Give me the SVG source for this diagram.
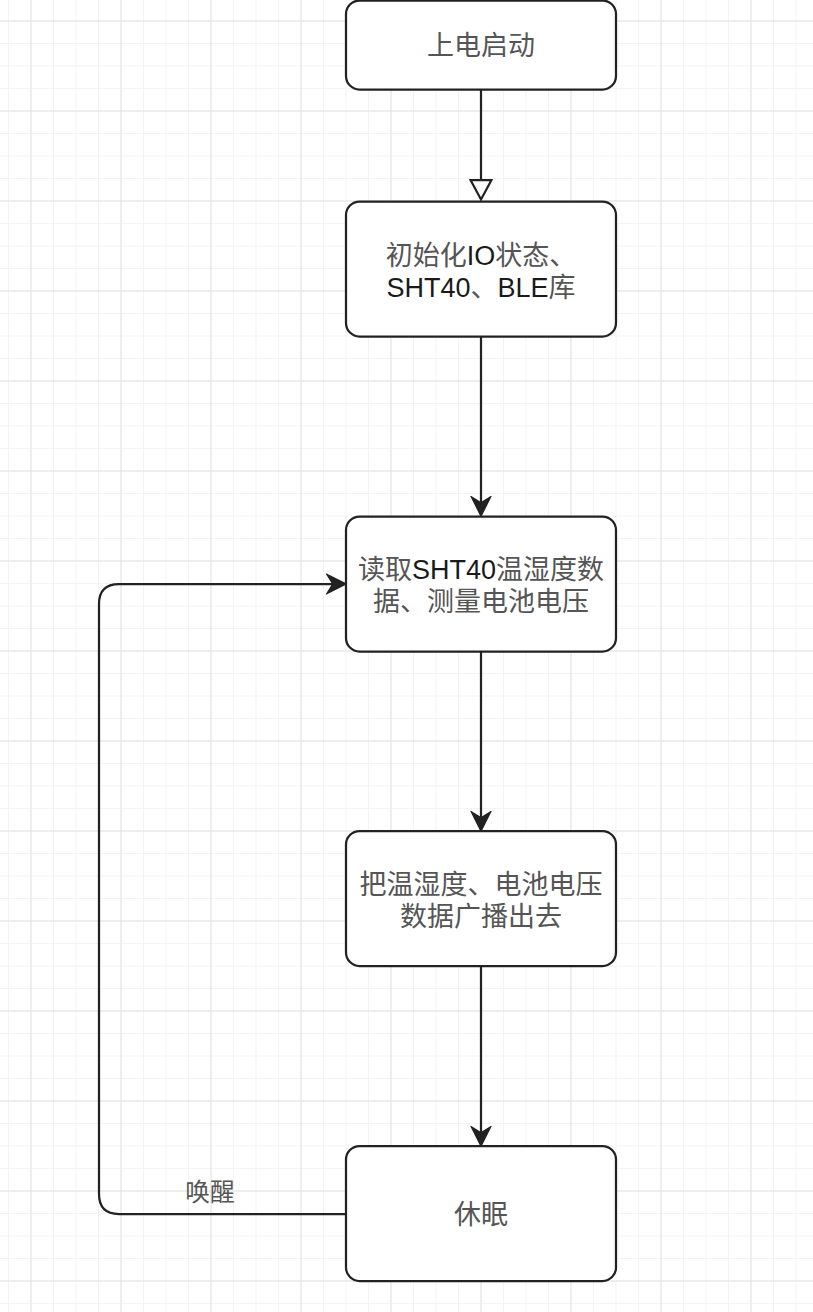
<svg xmlns="http://www.w3.org/2000/svg" width="813" height="1312" viewBox="0 0 813 1312">
<style>
.node rect{fill:#ffffff;stroke:#222222;stroke-width:2.25}
.edge{fill:none;stroke:#222222;stroke-width:2.25}
text{font-family:"Liberation Sans","Noto Sans CJK SC",sans-serif;font-size:27px;text-anchor:middle;fill:#555555}
.lat{fill:#1a1a1a}
.lbl{font-size:24.75px}
</style>
<defs>
<pattern id="minor" width="22.5" height="22.5" patternUnits="userSpaceOnUse" x="30.5" y="20.5">
<rect x="0" y="0" width="22.5" height="1" fill="#f3f3f3"/>
<rect x="0" y="0" width="1" height="22.5" fill="#f3f3f3"/>
</pattern>
<pattern id="major" width="90" height="90" patternUnits="userSpaceOnUse" x="30.5" y="20.5">
<rect x="0" y="0" width="90" height="1" fill="#e2e2e2"/>
<rect x="0" y="0" width="1" height="90" fill="#e2e2e2"/>
</pattern>
<marker id="classic" viewBox="0 0 21 22" markerWidth="21" markerHeight="22" refX="7" refY="11" orient="auto" markerUnits="userSpaceOnUse">
<path d="M20 11 L1 1.5 L7 11 L1 20.5 Z" fill="#222222" stroke="#222222" stroke-width="1.5" stroke-linejoin="miter"/>
</marker>
<marker id="block" viewBox="0 0 23 24" markerWidth="23" markerHeight="24" refX="1.5" refY="12" orient="auto" markerUnits="userSpaceOnUse">
<path d="M1.5 1.5 L21 12 L1.5 22.5 Z" fill="#ffffff" stroke="#222222" stroke-width="2.25"/>
</marker>
</defs>
<rect x="0" y="0" width="813" height="1312" fill="#ffffff"/>
<rect x="0" y="0" width="813" height="1312" fill="url(#minor)"/>
<rect x="0" y="0" width="813" height="1312" fill="url(#major)"/>

<g id="connectors">
<path class="edge" d="M481 89.5 V180" marker-end="url(#block)"/>
<path class="edge" d="M481 336.5 V503" marker-end="url(#classic)"/>
<path class="edge" d="M481 651.5 V818" marker-end="url(#classic)"/>
<path class="edge" d="M481 966 V1133" marker-end="url(#classic)"/>
<path class="edge" d="M346 1214 H119 Q99 1214 99 1194 V604 Q99 584 119 584 H333" marker-end="url(#classic)"/>
<text class="lbl" x="210" y="1201">唤醒</text>
</g>

<g id="node-start" class="node">
<rect x="346" y="0.5" width="270" height="89" rx="13.5" ry="13.5"/>
<text x="481" y="55">上电启动</text>
</g>

<g id="node-init" class="node">
<rect x="346" y="201.5" width="270" height="135" rx="13.5" ry="13.5"/>
<text x="481" y="265">初始化<tspan class="lat">IO</tspan>状态、</text>
<text x="481" y="297"><tspan class="lat">SHT40</tspan>、<tspan class="lat">BLE</tspan>库</text>
</g>

<g id="node-read" class="node">
<rect x="346" y="516.5" width="270" height="135" rx="13.5" ry="13.5"/>
<text x="481" y="579">读取<tspan class="lat">SHT40</tspan>温湿度数</text>
<text x="481" y="611">据、测量电池电压</text>
</g>

<g id="node-broadcast" class="node">
<rect x="346" y="831" width="270" height="135" rx="13.5" ry="13.5"/>
<text x="481" y="894">把温湿度、电池电压</text>
<text x="481" y="926">数据广播出去</text>
</g>

<g id="node-sleep" class="node">
<rect x="346" y="1146" width="270" height="135" rx="13.5" ry="13.5"/>
<text x="481" y="1224">休眠</text>
</g>
</svg>
